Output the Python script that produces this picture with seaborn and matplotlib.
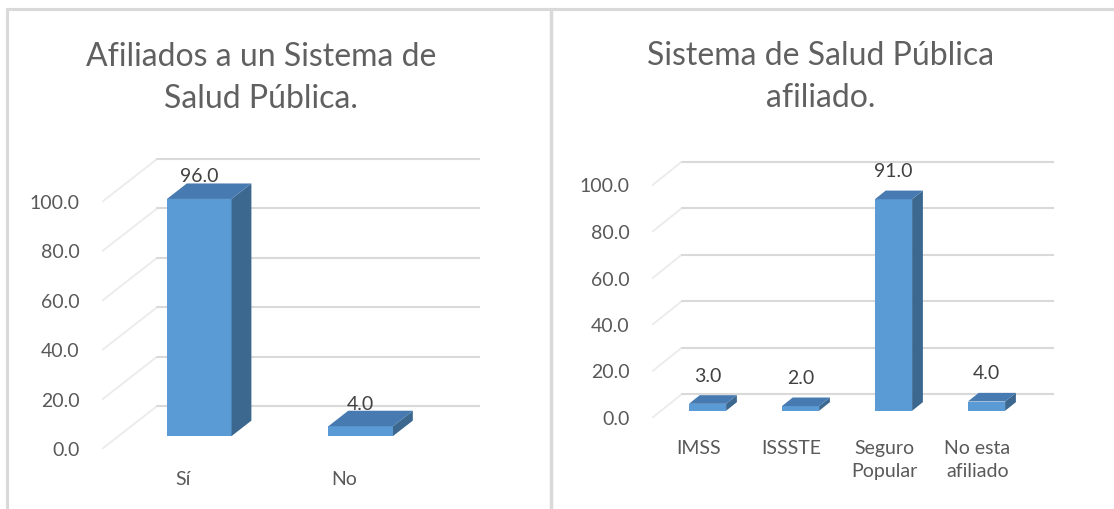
import numpy as np
import pandas as pd
import matplotlib
matplotlib.use("Agg")
import matplotlib.pyplot as plt
import seaborn as sns
from matplotlib.patches import Polygon
from matplotlib.lines import Line2D

# datos de las dos graficas
cat_afil = ["Sí", "No"]
val_afil = [96.0, 4.0]

cat_sist = ["IMSS", "ISSSTE", "Seguro\nPopular", "No esta\nafiliado"]
val_sist = [3.0, 2.0, 91.0, 4.0]

yticks = [0, 20, 40, 60, 80, 100]

sns.set_theme(style="white")
plt.rcParams["font.family"] = ["Lato", "DejaVu Sans"]

front = "#5b9bd5"
side = "#3c6890"
top = "#477ab0"
grid = "#d9d9d9"
txt = "#595959"

fig = plt.figure(figsize=(11.14, 5.09), dpi=100)


def px_box(x0, x1, y0, y1):
    # pixel box -> figure fraction [left, bottom, width, height]
    return [x0 / 1114, (509 - y1) / 509, (x1 - x0) / 1114, (y1 - y0) / 509]


def bar3d(ax, cats, vals, dx, dy, ymax, f0=0.3, f1=0.66):
    df = pd.DataFrame({"cat": cats, "val": vals})
    sns.barplot(data=df, x="cat", y="val", ax=ax, color=front, width=0.4,
                saturation=1, edgecolor="none", zorder=3)
    n = len(cats)
    ax.set_xlim(-0.5, n - 0.5 + dx)
    ax.set_ylim(0, ymax)

    # pared lateral y lineas de division al fondo
    for t in yticks:
        ax.plot([-0.5, -0.5 + dx], [t, t + dy], color="#ebebeb", lw=1.3,
                zorder=1, solid_capstyle="butt")
        ax.plot([-0.5 + dx, n - 0.5 + dx], [t + dy, t + dy], color=grid,
                lw=1.5, zorder=1)

    # mover las barras a su profundidad y agregar caras laterales / superiores
    for p, v in zip(ax.patches, vals):
        p.set_x(p.get_x() + f0 * dx)
        p.set_y(f0 * dy)
        x0 = p.get_x()
        w = p.get_width()
        y0 = p.get_y()
        h = p.get_height()
        ddx = (f1 - f0) * dx
        ddy = (f1 - f0) * dy
        ax.add_patch(Polygon([[x0 + w, y0], [x0 + w + ddx, y0 + ddy],
                              [x0 + w + ddx, y0 + h + ddy], [x0 + w, y0 + h]],
                             closed=True, facecolor=side, edgecolor="none", zorder=3))
        ax.add_patch(Polygon([[x0, y0 + h], [x0 + ddx, y0 + h + ddy],
                              [x0 + w + ddx, y0 + h + ddy], [x0 + w, y0 + h]],
                             closed=True, facecolor=top, edgecolor="none", zorder=3))
        ax.annotate(f"{v:.1f}", (x0 + w / 2, v), xytext=(0, 19),
                    textcoords="offset points", ha="center", va="bottom",
                    fontsize=14, color="#404040", zorder=5)

    ax.set_xlabel("")
    ax.set_ylabel("")
    ax.set_yticks(yticks)
    ax.set_yticklabels([f"{t:.1f}" for t in yticks])
    ax.set_xticks(range(n))
    ax.set_xticklabels(cats, linespacing=1.4)
    ax.tick_params(axis="y", length=0, pad=16, labelsize=14, labelcolor=txt)
    ax.tick_params(axis="x", length=0, pad=16, labelsize=14, labelcolor=txt)
    sns.despine(ax=ax, left=True, bottom=True)
    ax.grid(False)
    ax.set_facecolor("none")


ax1 = fig.add_axes(px_box(102, 480, 157.5, 449))
bar3d(ax1, cat_afil, val_afil, dx=55 / 161, dy=43 / 2.47, ymax=118)

ax2 = fig.add_axes(px_box(652, 1054, 157.6, 418))
bar3d(ax2, cat_sist, val_sist, dx=30 / 93, dy=24 / 2.325, ymax=112)

fig.text(261 / 1114, 1 - 78 / 509, "Afiliados a un Sistema de\nSalud Pública.",
         ha="center", va="center", fontsize=23, color="#606060", linespacing=1.5,
         fontweight="normal")
fig.text(821 / 1114, 1 - 77 / 509, "Sistema de Salud Pública\nafiliado.",
         ha="center", va="center", fontsize=23, color="#606060", linespacing=1.5,
         fontweight="normal")

# marcos de los paneles
bc = "#d9d9d9"
fig.add_artist(Line2D([7 / 1114, 1], [1 - 9 / 509, 1 - 9 / 509], color=bc, lw=2.2))
fig.add_artist(Line2D([7 / 1114, 7 / 1114], [0, 1 - 9 / 509], color=bc, lw=2.2))
fig.add_artist(Line2D([550.5 / 1114, 550.5 / 1114], [0, 1 - 9 / 509], color=bc, lw=2.5))

fig.savefig("out.png", dpi=100, facecolor="white")
